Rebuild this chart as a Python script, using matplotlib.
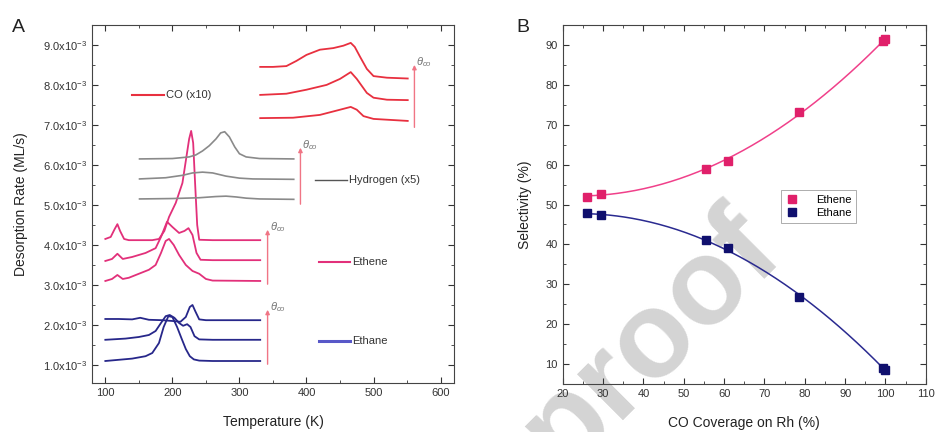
import matplotlib.pyplot as plt
import numpy as np
from matplotlib.ticker import MultipleLocator, FuncFormatter

plt.rcParams['font.family'] = ['Liberation Sans', 'DejaVu Sans']
plt.rcParams['mathtext.fontset'] = 'custom'
plt.rcParams['mathtext.rm'] = 'Liberation Sans'
plt.rcParams['mathtext.it'] = 'Liberation Sans:italic'

# ---- panel A: TPD traces (rates in units of 1e-3 ML/s) ----
ethane_t1 = [100, 120, 140, 160, 170, 180, 187, 194, 200, 207, 214, 220, 226, 232, 240, 260, 300, 331]
ethane_v1 = [1.10, 1.13, 1.16, 1.22, 1.30, 1.55, 1.95, 2.22, 2.20, 1.95, 1.65, 1.40, 1.22, 1.14, 1.11, 1.10, 1.10, 1.10]
ethane_t2 = [100, 130, 150, 165, 175, 183, 190, 196, 203, 210, 216, 222, 227, 233, 240, 260, 331]
ethane_v2 = [1.63, 1.66, 1.70, 1.75, 1.85, 2.05, 2.22, 2.25, 2.18, 2.05, 1.98, 2.02, 1.95, 1.72, 1.64, 1.63, 1.63]
ethane_t3 = [100, 120, 140, 152, 165, 185, 200, 212, 220, 226, 230, 234, 240, 250, 331]
ethane_v3 = [2.15, 2.15, 2.14, 2.18, 2.13, 2.12, 2.10, 2.08, 2.20, 2.45, 2.50, 2.35, 2.14, 2.12, 2.12]

ethene_t1 = [100, 110, 118, 126, 135, 150, 165, 175, 183, 190, 195, 202, 210, 220, 230, 240, 250, 260, 331]
ethene_v1 = [3.10, 3.15, 3.25, 3.15, 3.18, 3.28, 3.38, 3.50, 3.80, 4.10, 4.15, 4.00, 3.75, 3.50, 3.35, 3.28, 3.15, 3.11, 3.10]
ethene_t2 = [100, 110, 118, 126, 140, 160, 175, 183, 192, 200, 210, 218, 224, 230, 236, 242, 260, 331]
ethene_v2 = [3.60, 3.65, 3.78, 3.65, 3.70, 3.80, 3.92, 4.20, 4.58, 4.45, 4.30, 4.35, 4.42, 4.25, 3.80, 3.63, 3.62, 3.62]
ethene_t3 = [100, 108, 114, 118, 122, 128, 135, 170, 180, 188, 195, 205, 215, 220, 225, 228, 231, 234, 237, 240, 260, 331]
ethene_v3 = [4.15, 4.20, 4.40, 4.52, 4.35, 4.15, 4.12, 4.12, 4.15, 4.35, 4.70, 5.05, 5.55, 6.10, 6.65, 6.85, 6.55, 5.50, 4.50, 4.13, 4.12, 4.12]

h2_t1 = [151, 200, 240, 265, 280, 295, 310, 330, 381]
h2_v1 = [5.15, 5.16, 5.18, 5.21, 5.22, 5.20, 5.17, 5.15, 5.14]
h2_t2 = [151, 190, 215, 230, 245, 260, 280, 300, 320, 381]
h2_v2 = [5.65, 5.68, 5.74, 5.80, 5.82, 5.80, 5.72, 5.67, 5.65, 5.64]
h2_t3 = [151, 200, 225, 235, 245, 255, 265, 272, 278, 285, 293, 300, 310, 330, 381]
h2_v3 = [6.15, 6.16, 6.20, 6.25, 6.35, 6.48, 6.65, 6.80, 6.83, 6.70, 6.45, 6.28, 6.20, 6.16, 6.15]

co_t1 = [331, 380, 420, 450, 466, 475, 485, 500, 551]
co_v1 = [7.17, 7.18, 7.25, 7.38, 7.45, 7.38, 7.22, 7.15, 7.10]
co_t2 = [331, 370, 400, 430, 450, 466, 475, 490, 500, 520, 551]
co_v2 = [7.75, 7.78, 7.88, 8.00, 8.15, 8.32, 8.15, 7.80, 7.68, 7.63, 7.62]
co_t3 = [331, 350, 370, 385, 400, 420, 440, 455, 466, 472, 480, 490, 500, 520, 551]
co_v3 = [8.45, 8.45, 8.47, 8.60, 8.75, 8.88, 8.92, 8.98, 9.05, 8.95, 8.70, 8.40, 8.22, 8.18, 8.16]

# ---- panel B: selectivity vs CO coverage ----
coverage = [26, 29.5, 55.5, 61, 78.5, 99.5, 100]
sel_ethene = [52, 52.7, 59, 61, 73.2, 91, 91.5]
sel_ethane = [47.8, 47.3, 41, 39, 26.8, 9, 8.5]

ETHENE = '#e2307a'
ETHANE = '#27278a'
CO = '#e8303f'
H2 = '#8a8a8a'
ARROW = '#f07585'

fig = plt.figure(figsize=(9.38, 4.32), dpi=100)
axA = fig.add_axes([0.098, 0.1134, 0.386, 0.829])
axB = fig.add_axes([0.600, 0.111, 0.387, 0.831])

for ax in (axA, axB):
    ax.set_facecolor('none')
    ax.tick_params(which='both', direction='in', top=True, right=True, labelsize=8, colors='#333333')
    ax.tick_params(which='major', length=4)
    ax.tick_params(which='minor', length=2)
    for s in ax.spines.values():
        s.set_color('#444444')

# panel A
sc = 1e-3
for t, v in [(ethane_t1, ethane_v1), (ethane_t2, ethane_v2), (ethane_t3, ethane_v3)]:
    axA.plot(t, np.array(v) * sc, color=ETHANE, lw=1.3)
for t, v in [(ethene_t1, ethene_v1), (ethene_t2, ethene_v2), (ethene_t3, ethene_v3)]:
    axA.plot(t, np.array(v) * sc, color=ETHENE, lw=1.3)
for t, v in [(h2_t1, h2_v1), (h2_t2, h2_v2), (h2_t3, h2_v3)]:
    axA.plot(t, np.array(v) * sc, color=H2, lw=1.2)
for t, v in [(co_t1, co_v1), (co_t2, co_v2), (co_t3, co_v3)]:
    axA.plot(t, np.array(v) * sc, color=CO, lw=1.3)

# coverage arrows
for x, y0, y1 in [(561, 6.87, 8.57), (391, 4.95, 6.5), (342, 2.95, 4.45), (342, 0.95, 2.45)]:
    axA.annotate('', xy=(x, y1 * sc), xytext=(x, y0 * sc),
                 arrowprops=dict(arrowstyle='-|>', color=ARROW, lw=1.0, mutation_scale=6))
    axA.text(x + 3, y1 * sc, r'$\theta_{co}$', fontsize=8, color='#777777', va='center', ha='left')

# in-plot labels
for x0, x1, y, c, lab, lw in [(140, 187, 7.75, CO, 'CO (x10)', 1.5),
                               (413, 461, 5.63, '#555555', 'Hydrogen (x5)', 1.0),
                               (418, 465, 3.58, ETHENE, 'Ethene', 1.5),
                               (418, 465, 1.6, '#5858c8', 'Ethane', 2.2)]:
    axA.plot([x0, x1], [y * sc, y * sc], color=c, lw=lw)
    axA.text(x1 + 3, y * sc, lab, fontsize=8, va='center', ha='left', color='#333333')

axA.set_xlim(80, 620)
axA.set_ylim(0.55e-3, 9.5e-3)
axA.xaxis.set_major_locator(MultipleLocator(100))
axA.xaxis.set_minor_locator(MultipleLocator(50))
axA.yaxis.set_major_locator(MultipleLocator(1e-3))
axA.yaxis.set_minor_locator(MultipleLocator(0.5e-3))
axA.yaxis.set_major_formatter(FuncFormatter(lambda v, p: '%.1fx10$^{-3}$' % (v / 1e-3)))
axA.set_xlabel('Temperature (K)', fontsize=10, color='#222222', labelpad=12)
axA.set_ylabel('Desorption Rate (ML/s)', fontsize=10, color='#222222', labelpad=11)

# panel B
xfit = np.linspace(min(coverage), max(coverage), 200)
fit_e = np.polyval(np.polyfit(coverage, sel_ethene, 2), xfit)
fit_a = np.polyval(np.polyfit(coverage, sel_ethane, 2), xfit)
axB.plot(xfit, fit_e, color='#f0408a', lw=1.1)
axB.plot(xfit, fit_a, color='#2a2a90', lw=1.1)
axB.plot(coverage, sel_ethene, 's', color='#e0206a', ms=6, label='Ethene')
axB.plot(coverage, sel_ethane, 's', color='#10106e', ms=6, label='Ethane')
leg = axB.legend(loc='upper left', bbox_to_anchor=(0.585, 0.555), fontsize=8, frameon=True,
                 fancybox=False, edgecolor='#888888', handlelength=1.2, borderpad=0.4,
                 labelspacing=0.3, handletextpad=1.6)
leg.get_frame().set_linewidth(0.6)

axB.set_xlim(20, 110)
axB.set_ylim(5, 95)
axB.xaxis.set_major_locator(MultipleLocator(10))
axB.xaxis.set_minor_locator(MultipleLocator(5))
axB.yaxis.set_minor_locator(MultipleLocator(5))
axB.set_yticks(range(10, 91, 10))
axB.set_xlabel('CO Coverage on Rh (%)', fontsize=10, color='#222222', labelpad=12)
axB.set_ylabel('Selectivity (%)', fontsize=10, color='#222222', labelpad=10)

fig.text(0.013, 0.925, 'A', fontsize=14, color='#222222')
fig.text(0.551, 0.925, 'B', fontsize=14, color='#222222')

# journal watermark behind the plots
fig.text(0.601, -0.093, 'proof', fontsize=88, fontweight='bold', color='#d4d4d4',
         rotation=45, rotation_mode='anchor', ha='left', va='baseline', zorder=-1)

fig.savefig('out.png', dpi=100)
